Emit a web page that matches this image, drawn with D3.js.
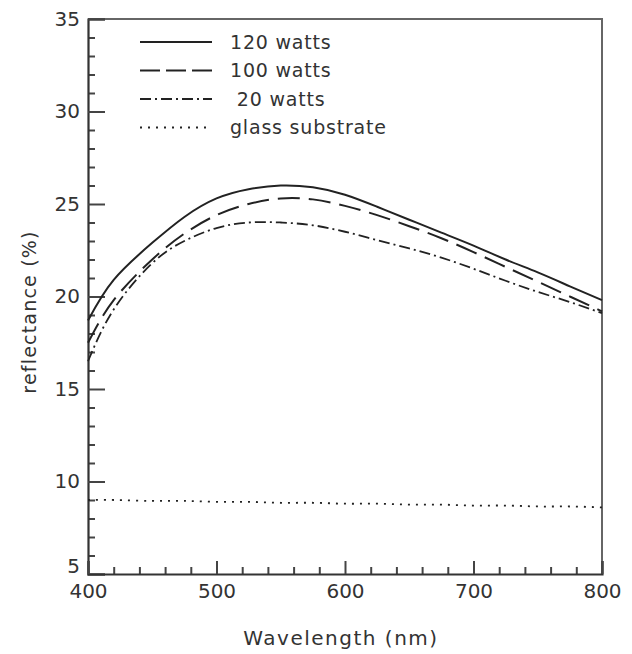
<!DOCTYPE html>
<html>
<head>
<meta charset="utf-8">
<script src="https://cdn.jsdelivr.net/npm/d3@7"></script>
<style>
  body { margin: 0; background: #fff; }
  text { font-family: 'DejaVu Sans', sans-serif; fill: #333; }
</style>
</head>
<body>
<div class="svg-container"></div>
<script>
// values
const wavelengths = [400, 420, 450, 475, 500, 525, 550, 575, 600, 625, 650, 675, 700, 725, 750, 775, 800];
const watts120 = [18.7, 20.9, 22.9, 24.3, 25.3, 25.8, 26.0, 25.9, 25.5, 24.85, 24.15, 23.45, 22.75, 22.0, 21.3, 20.55, 19.8];
const watts100 = [17.5, 19.8, 22.0, 23.4, 24.4, 25.0, 25.3, 25.25, 24.9, 24.4, 23.8, 23.15, 22.4, 21.6, 20.8, 20.0, 19.2];
const watts20 = [16.5, 19.3, 21.8, 23.0, 23.7, 24.0, 24.0, 23.85, 23.5, 23.05, 22.6, 22.1, 21.5, 20.85, 20.25, 19.7, 19.1];
const glass = [9.0, 9.0, 8.95, 8.95, 8.9, 8.9, 8.85, 8.85, 8.8, 8.8, 8.75, 8.75, 8.7, 8.7, 8.65, 8.65, 8.6];

const seriesNames = ['120 watts', '100 watts', '\u00a020 watts', 'glass substrate'];
const yMajorTicks = [5, 10, 15, 20, 25, 30, 35];
const xMajorTicks = [400, 500, 600, 700, 800];

const width = 632;
const height = 654;
const margin = { top: 19, right: 30, bottom: 80, left: 88 };

const dashes = ['none', '22,9', '11,4,2,4', '2,6'];
const widths = [2, 2, 1.8, 1.8];

const svg = d3.select('.svg-container')
  .append('svg')
  .attr('width', width)
  .attr('height', height);

const x = d3.scaleLinear().domain([400, 800]).range([margin.left, width - margin.right]);
const y = d3.scaleLinear().domain([5, 35]).range([height - margin.bottom, margin.top]);

// frame: top and right edges
svg.append('path')
  .attr('d', `M${x(400)},${y(35)}H${x(800)}V${y(5)}`)
  .attr('fill', 'none')
  .attr('stroke', '#666')
  .attr('stroke-width', 2);

// minor ticks
svg.append('g')
  .attr('transform', `translate(${x(400)},0)`)
  .call(d3.axisLeft(y).tickValues(d3.range(5, 36, 1).filter(v => v % 5 !== 0)).tickSize(-7).tickFormat(''))
  .call(g => g.select('.domain').remove())
  .selectAll('line').attr('stroke', '#444').attr('stroke-width', 2);

svg.append('g')
  .attr('transform', `translate(0,${y(5)})`)
  .call(d3.axisBottom(x).tickValues(d3.range(400, 801, 20).filter(v => v % 100 !== 0)).tickSize(-7).tickFormat(''))
  .call(g => g.select('.domain').remove())
  .selectAll('line').attr('stroke', '#444').attr('stroke-width', 2);

// major ticks + labels
const yAxis = svg.append('g')
  .attr('transform', `translate(${x(400)},0)`)
  .call(d3.axisLeft(y).tickValues(yMajorTicks).tickSize(-17).tickPadding(8));
yAxis.select('.domain').attr('stroke', '#333').attr('stroke-width', 2.2);
yAxis.selectAll('line').attr('stroke', '#444').attr('stroke-width', 2);
yAxis.selectAll('text').attr('font-size', 20).attr('fill', '#333')
  .attr('font-family', 'DejaVu Sans').attr('x', -8)
  .attr('y', d => (d === 5 ? -8 : 0));

const xAxis = svg.append('g')
  .attr('transform', `translate(0,${y(5)})`)
  .call(d3.axisBottom(x).tickValues(xMajorTicks).tickSize(-13).tickPadding(8));
xAxis.select('.domain').attr('stroke', '#333').attr('stroke-width', 2.2);
xAxis.selectAll('line').attr('stroke', '#444').attr('stroke-width', 2);
xAxis.selectAll('text').attr('font-size', 20).attr('fill', '#333')
  .attr('font-family', 'DejaVu Sans').attr('y', 10);

// axis titles
svg.append('text')
  .attr('x', 341)
  .attr('y', 645)
  .attr('text-anchor', 'middle')
  .attr('font-size', 20)
  .attr('letter-spacing', 1.5)
  .text('Wavelength (nm)');

svg.append('text')
  .attr('transform', 'translate(36,312) rotate(-90)')
  .attr('text-anchor', 'middle')
  .attr('font-size', 19)
  .attr('letter-spacing', 1.2)
  .text('reflectance (%)');

// curves
const allSeries = [watts120, watts100, watts20, glass];
const line = d3.line()
  .x((d, i) => x(wavelengths[i]))
  .y(d => y(d))
  .curve(d3.curveNatural);

svg.append('g')
  .selectAll('path')
  .data(allSeries)
  .enter()
  .append('path')
  .attr('d', line)
  .attr('fill', 'none')
  .attr('stroke', '#222')
  .attr('stroke-width', (d, i) => widths[i])
  .attr('stroke-dasharray', (d, i) => dashes[i]);

// legend
const legend = svg.append('g')
  .selectAll('g')
  .data(seriesNames)
  .enter()
  .append('g')
  .attr('transform', (d, i) => `translate(0,${42 + i * 28.5})`);

legend.append('line')
  .attr('x1', 140)
  .attr('x2', 212)
  .attr('stroke', '#222')
  .attr('stroke-width', (d, i) => widths[i])
  .attr('stroke-dasharray', (d, i) => (i === 1 ? '20,6' : dashes[i]));

legend.append('text')
  .attr('x', 230)
  .attr('dy', '0.35em')
  .attr('font-size', 19)
  .attr('letter-spacing', 0.8)
  .text(d => d);
</script>
</body>
</html>
